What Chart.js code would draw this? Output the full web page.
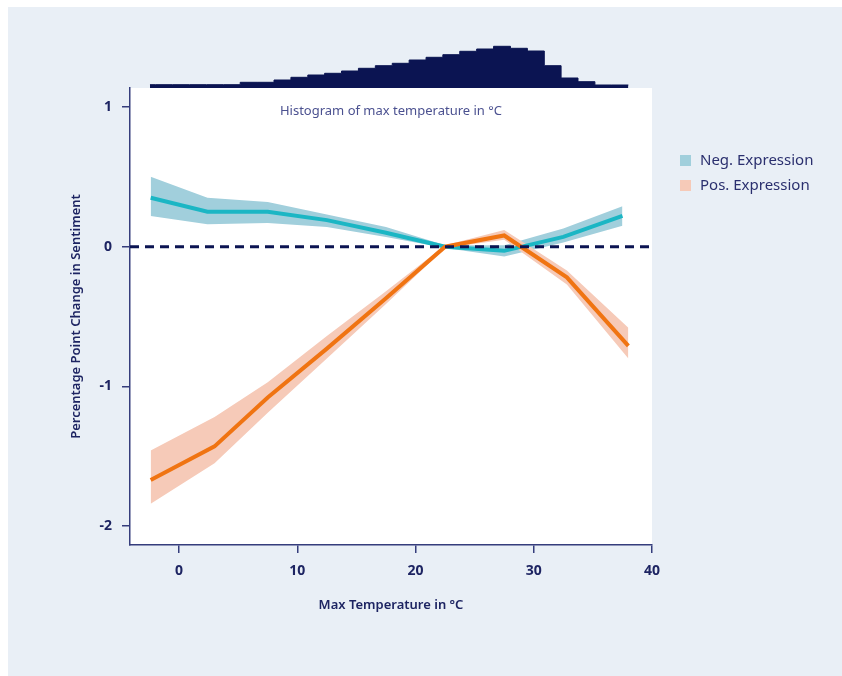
<!DOCTYPE html>
<html>
<head>
<meta charset="utf-8">
<script src="https://cdn.jsdelivr.net/npm/chart.js@4.4.1/dist/chart.umd.min.js"></script>
<style>
  html, body { margin: 0; padding: 0; background: #ffffff; }
  #panel { position: absolute; left: 8px; top: 7px; right: 0; bottom: 0; background: #e9eff6; }
  #chart { position: absolute; left: 0; top: 0; }
</style>
</head>
<body>
<div id="panel"></div>
<canvas id="chart" width="842" height="676"></canvas>
<script>
// Negative expression: temperature, estimate and confidence band
const negTemp = [-2.4, 2.4, 7.5, 12.5, 17.5, 22.5, 27.5, 32.5, 37.5];
const negEst  = [0.35, 0.25, 0.25, 0.19, 0.10, 0.00, -0.03, 0.07, 0.22];
const negLow  = [0.22, 0.16, 0.17, 0.14, 0.07, -0.01, -0.07, 0.03, 0.15];
const negHigh = [0.50, 0.35, 0.32, 0.23, 0.14, 0.01, 0.01, 0.13, 0.29];

// Positive expression
const posTemp = [-2.4, 3.0, 7.5, 12.5, 17.5, 22.5, 27.5, 32.8, 38.0];
const posEst  = [-1.67, -1.43, -1.08, -0.73, -0.37, 0.00, 0.08, -0.22, -0.71];
const posLow  = [-1.84, -1.55, -1.19, -0.80, -0.41, -0.01, 0.05, -0.27, -0.80];
const posHigh = [-1.46, -1.22, -0.97, -0.64, -0.32, 0.01, 0.12, -0.17, -0.58];

// Histogram of max temperature (bin edges in °C, relative frequency per bin)
const histEdges = [-2.46, -1.97, -0.54, 0.89, 2.31, 3.74, 5.17, 6.6, 8.03, 9.46, 10.89, 12.31, 13.74, 15.17, 16.6,
                   18.03, 19.46, 20.89, 22.31, 23.74, 25.17, 26.6, 28.03, 29.46, 30.89, 32.31, 33.74, 35.17, 36.6, 38.0];
const histFreq  = [3.3, 3.3, 3.3, 3.3, 3.3, 3.3, 5.7, 5.7, 8.0, 10.7, 13.0, 14.7, 17.0, 19.7, 22.3,
                   24.7, 28.0, 30.7, 33.3, 36.7, 39.0, 41.7, 39.7, 37.0, 22.3, 10.0, 6.3, 3.0, 3.0];

// Axes
const xMin = -4.15, xMax = 40;
const yMin = -2.136, yMax = 1.136;
const xTicks = [0, 10, 20, 30, 40];
const yTicks = [-2, -1, 0, 1];

const legendLabels = ['Neg. Expression', 'Pos. Expression'];
const histTitle = 'Histogram of max temperature in \u00B0C';
const xTitle = 'Max Temperature in \u00B0C';
const yTitle = 'Percentage Point Change in Sentiment';

const family = "'Noto Sans', 'Open Sans', sans-serif";
const navy = '#1d2462';
const axisColor = '#353d7c';
const histColor = '#0b1452';
const tealLine = '#1bb6c4';
const tealBand = '#a1cfdc';
const orangeLine = '#f07412';
const orangeBand = '#f6cab8';
const legendColors = [tealBand, orangeBand];

const pts = (xs, ys) => xs.map((v, i) => ({ x: v, y: ys[i] }));
const histPts = histEdges.map((e, i) => ({ x: e, y: histFreq[Math.min(i, histFreq.length - 1)] }));

// White plotting panel behind the main axes
const whitePlot = {
    id: 'whitePlot',
    beforeDraw(chart) {
        const { ctx, scales: { x, y } } = chart;
        ctx.save();
        ctx.fillStyle = '#ffffff';
        ctx.fillRect(x.left, y.top, x.right - x.left, y.bottom - y.top);
        ctx.restore();
    }
};

// Histogram caption and the legend at the right
const extras = {
    id: 'extras',
    afterDraw(chart) {
        const { ctx, scales: { x, y } } = chart;
        ctx.save();
        ctx.fillStyle = '#4b5190';
        ctx.font = '13px ' + family;
        ctx.textAlign = 'center';
        ctx.textBaseline = 'middle';
        ctx.fillText(histTitle, (x.left + x.right) / 2, y.top + 23);

        ctx.textAlign = 'left';
        ctx.font = '15px ' + family;
        legendLabels.forEach((label, i) => {
            const top = y.top + 67 + i * 25;
            ctx.fillStyle = legendColors[i];
            ctx.fillRect(x.right + 28, top, 11, 11);
            ctx.fillStyle = '#2a2f6e';
            ctx.fillText(label, x.right + 48, top + 6);
        });
        ctx.restore();
    }
};

const lineBase = { pointRadius: 0, tension: 0, fill: false };

new Chart(document.getElementById('chart').getContext('2d'), {
    type: 'line',
    data: {
        datasets: [
            { ...lineBase, label: 'zero', data: [{ x: xMin, y: 0 }, { x: xMax, y: 0 }],
              borderColor: histColor, borderWidth: 3, borderDash: [9, 6], order: 0 },
            { ...lineBase, label: 'Pos. Expression', data: pts(posTemp, posEst),
              borderColor: orangeLine, borderWidth: 4, order: 1 },
            { ...lineBase, label: 'Neg. Expression', data: pts(negTemp, negEst),
              borderColor: tealLine, borderWidth: 4, order: 2 },
            { ...lineBase, label: 'pos high', data: pts(posTemp, posHigh), fill: '+1',
              backgroundColor: orangeBand, borderWidth: 0, order: 3 },
            { ...lineBase, label: 'pos low', data: pts(posTemp, posLow), borderWidth: 0, order: 3 },
            { ...lineBase, label: 'neg high', data: pts(negTemp, negHigh), fill: '+1',
              backgroundColor: tealBand, borderWidth: 0, order: 4 },
            { ...lineBase, label: 'neg low', data: pts(negTemp, negLow), borderWidth: 0, order: 4 },
            { ...lineBase, label: 'hist', data: histPts, yAxisID: 'yh', stepped: 'before',
              fill: 'origin', backgroundColor: histColor, borderColor: histColor, borderWidth: 1, order: 5 }
        ]
    },
    options: {
        responsive: false,
        animation: false,
        events: [],
        layout: { padding: { left: 68, right: 190, top: 44, bottom: 63 } },
        plugins: {
            legend: { display: false },
            tooltip: { enabled: false }
        },
        scales: {
            x: {
                type: 'linear',
                min: xMin,
                max: xMax,
                afterBuildTicks: s => { s.ticks = xTicks.map(v => ({ value: v })); },
                afterFit: s => { s.height = 68; },
                grid: { drawOnChartArea: false, color: axisColor, lineWidth: 1.5, tickLength: 8 },
                border: { color: axisColor, width: 1.5 },
                ticks: { color: navy, padding: 10, maxRotation: 0, font: { family, size: 14, weight: 'bold' } },
                title: { display: true, text: xTitle, color: navy, padding: { top: 17, bottom: 0 },
                         font: { family, size: 13, weight: '600' } }
            },
            y: {
                type: 'linear',
                position: 'left',
                min: yMin,
                max: yMax,
                stack: 'v',
                stackWeight: 457,
                weight: 0,
                afterBuildTicks: s => { s.ticks = yTicks.map(v => ({ value: v })); },
                afterFit: s => { s.width = 62; },
                grid: { drawOnChartArea: false, color: axisColor, lineWidth: 1.5, tickLength: 8 },
                border: { color: axisColor, width: 1.5 },
                ticks: { color: navy, padding: 10, font: { family, size: 14, weight: 'bold' } },
                title: { display: true, text: yTitle, color: navy, padding: { top: 0, bottom: 0 },
                         font: { family, size: 13, weight: '600' } }
            },
            yh: {
                type: 'linear',
                position: 'left',
                display: false,
                min: 0,
                max: 44,
                stack: 'v',
                stackWeight: 44,
                weight: 1
            }
        }
    },
    plugins: [whitePlot, extras]
});
</script>
</body>
</html>
